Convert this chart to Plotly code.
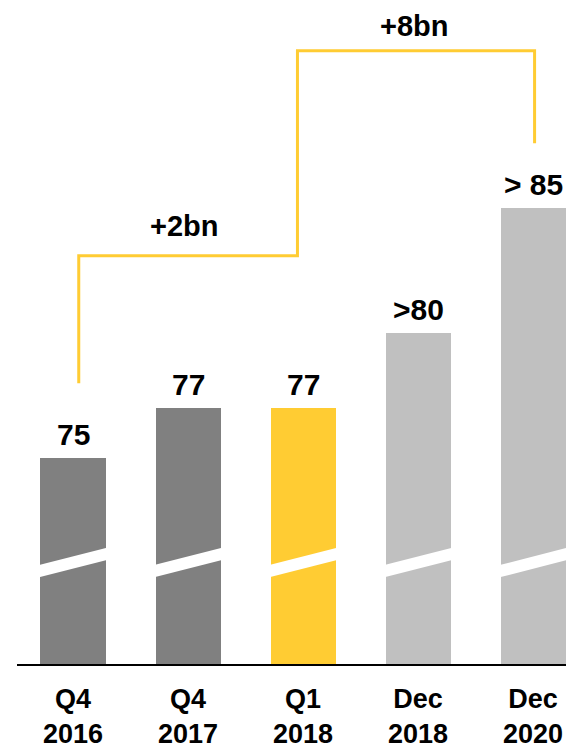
import plotly.graph_objects as go

# Categories and values
categories = ["Q4<br>2016", "Q4<br>2017", "Q1<br>2018", "Dec<br>2018", "Dec<br>2020"]
values = [75, 77, 77, 80, 85]
value_labels = ["75", "77", "77", ">80", "> 85"]
bar_colors = ["#808080", "#808080", "#FFCC33", "#C0C0C0", "#C0C0C0"]

# Growth brackets: from bar index, to bar index, label
bracket_from = [0, 2]
bracket_to = [2, 4]
bracket_labels = ["+2bn", "+8bn"]

YELLOW = "#FFCC33"
FONT = "Liberation Sans, Arial, sans-serif"

x = list(range(len(categories)))
BAR_W = 0.565
Y_MIN, Y_MAX = 66.77, 93.33

fig = go.Figure()

fig.add_trace(go.Bar(
    x=x, y=values, width=BAR_W,
    marker=dict(color=bar_colors, line=dict(width=0)),
    hoverinfo="skip",
))

# Axis-break stripes across every bar
BREAK_Y, BREAK_HALF, BREAK_SLOPE, EXT = 70.83, 0.245, 1.186, 0.32
for i in x:
    x0, x1 = i - EXT, i + EXT
    yl = BREAK_Y - BREAK_SLOPE * EXT
    yr = BREAK_Y + BREAK_SLOPE * EXT
    path = (f"M {x0},{yl - BREAK_HALF} L {x1},{yr - BREAK_HALF} "
            f"L {x1},{yr + BREAK_HALF} L {x0},{yl + BREAK_HALF} Z")
    fig.add_shape(type="path", path=path, xref="x", yref="y",
                  fillcolor="white", line=dict(width=0), layer="above")

# Step connector linking the brackets
level_1, level_2 = 83.1, 91.3
cx = [bracket_from[0] + 0.05, bracket_from[0] + 0.05,
      bracket_to[0] - 0.05, bracket_from[1] - 0.05,
      bracket_to[1] + 0.01, bracket_to[1] + 0.01]
cy = [values[bracket_from[0]] + 3.0, level_1, level_1,
      level_2, level_2, values[bracket_to[1]] + 2.6]
fig.add_trace(go.Scatter(
    x=cx, y=cy, mode="lines",
    line=dict(color=YELLOW, width=3),
    hoverinfo="skip", cliponaxis=False,
))

annotations = []
# Value labels above bars
for i, (v, t) in enumerate(zip(values, value_labels)):
    annotations.append(dict(
        x=i, y=v, xref="x", yref="y", text=t, showarrow=False,
        yanchor="middle", xanchor="center", yshift=24,
        font=dict(family=FONT, size=30, color="black", weight="bold"),
    ))

# Bracket labels
for lbl, lvl, a, b, sh in zip(bracket_labels, [level_1, level_2],
                              bracket_from, bracket_to, [30, 25]):
    annotations.append(dict(
        x=(a + b) / 2 - 0.03, y=lvl, xref="x", yref="y", text=lbl,
        showarrow=False, yanchor="middle", xanchor="center", yshift=sh,
        font=dict(family=FONT, size=29, color="black", weight="bold"),
    ))

# Category labels under the axis
for i, c in enumerate(categories):
    annotations.append(dict(
        x=i, y=0, xref="x", yref="paper", text=c, showarrow=False,
        yanchor="bottom", xanchor="center", yshift=-87,
        font=dict(family=FONT, size=27, color="black", weight="bold"),
    ))

fig.update_layout(
    width=566, height=751,
    margin=dict(l=17, r=0, t=0, b=87, pad=0),
    paper_bgcolor="white", plot_bgcolor="white",
    showlegend=False,
    bargap=0,
    xaxis=dict(range=[-0.4865, 4.283], showgrid=False, zeroline=False,
               showticklabels=False, ticks="", showline=True,
               linecolor="black", linewidth=2, fixedrange=True),
    yaxis=dict(range=[Y_MIN, Y_MAX], visible=False, fixedrange=True),
    annotations=annotations,
)

fig.write_html("out.html", config={"displayModeBar": False})
